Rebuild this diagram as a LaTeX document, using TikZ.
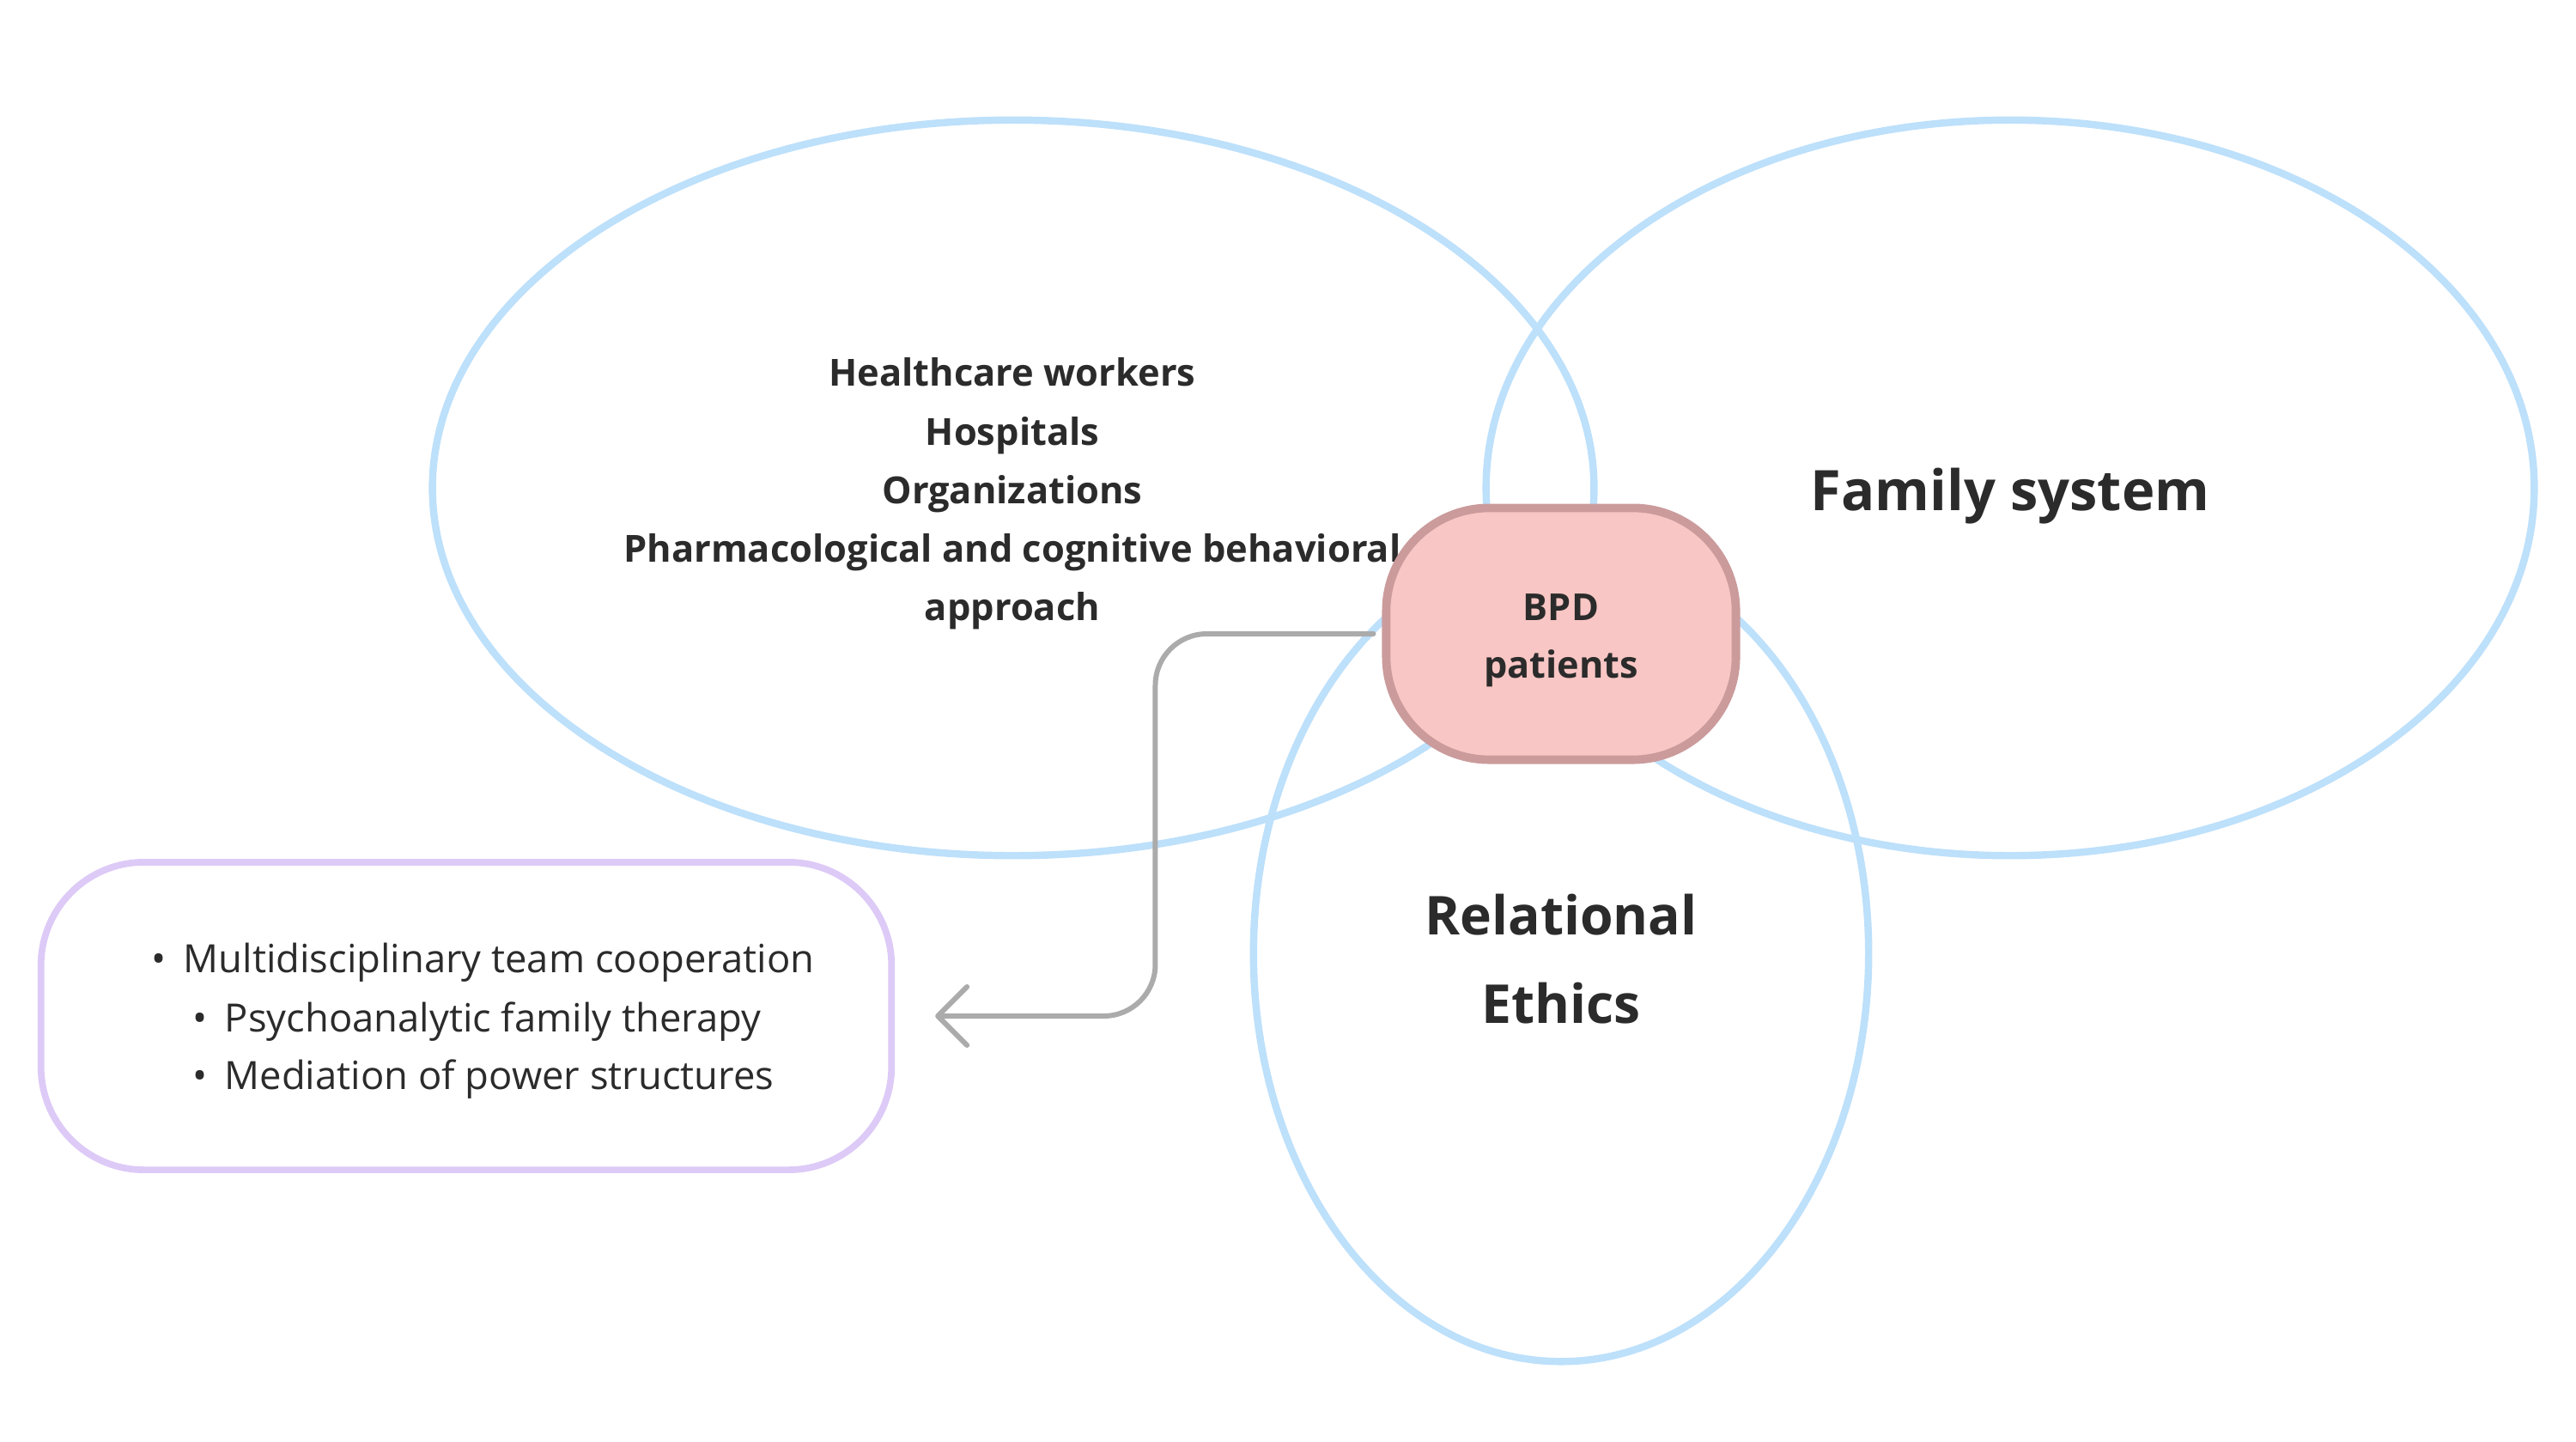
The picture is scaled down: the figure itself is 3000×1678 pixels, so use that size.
\documentclass[tikz,border=0pt]{standalone}
\usepackage{fontspec}
\setmainfont{Open Sans}
\usetikzlibrary{arrows.meta,shapes.geometric}
\definecolor{venn}{HTML}{BDE0FB}
\definecolor{bpdfill}{HTML}{F8C6C4}
\definecolor{bpdline}{HTML}{CB9B9C}
\definecolor{lav}{HTML}{DDCAF7}
\definecolor{conn}{HTML}{ABABAB}
\definecolor{ink}{HTML}{2B2B2B}
\newcommand{\lowertext}[1]{\raisebox{-0.08cm}[\height][\depth]{#1}}
\tikzset{
  vennset/.style={ellipse, draw=venn, line width=2.4pt, inner sep=0pt},
  bpdbox/.style={rectangle, rounded corners=1.2cm, draw=bpdline, fill=bpdfill, line width=2.8pt, minimum width=4.07cm, minimum height=2.93cm, align=center, text=ink},
  listbox/.style={rectangle, rounded corners=1.2cm, draw=lav, line width=2.2pt, minimum width=9.9cm, minimum height=3.58cm},
  midtext/.style={align=center, text=ink, font=\bfseries\fontsize{12.35pt}{19.4pt}\selectfont},
  bigtext/.style={align=center, text=ink, font=\bfseries\fontsize{17.75pt}{29.3pt}\selectfont},
  itemtext/.style={anchor=mid west, text=ink, inner sep=0pt, font=\fontsize{12.9pt}{14pt}\selectfont},
  connline/.style={draw=conn, line width=1.7pt, rounded corners=0.6cm, line cap=round, -{Straight Barb[length=0.34cm, width=0.68cm, line width=1.7pt, round]}}
}
\begin{document}
\begin{tikzpicture}[x=0.01cm,y=-0.01cm]
\fill[white] (0,0) rectangle (3000,1678);
\useasboundingbox (0,0) rectangle (3000,1678);
\node[vennset, minimum width=13.52cm, minimum height=8.56cm] (care) at (1180,568) {};
\node[vennset, minimum width=12.2cm, minimum height=8.56cm] (family) at (2341,568) {};
\node[vennset, minimum width=7.16cm, minimum height=9.5cm] (ethics) at (1818,1110) {};
\node[midtext] (caretext) at (1179,575) {Healthcare workers\\Hospitals\\Organizations\\Pharmacological and cognitive behavioral\\approach};
\node[bigtext, font=\bfseries\fontsize{18.5pt}{29.3pt}\selectfont] (familytext) at (2341,578) {Family system};
\node[bigtext] (ethicstext) at (1818,1117) {Relational\\Ethics};
\node[listbox] (list) at (543,1183) {};
\node[itemtext] (b1) at (176,1123) {\textbullet\hspace{0.2cm}Multidisciplinary team cooperation};
\node[itemtext] (b2) at (224,1192) {\textbullet\hspace{0.2cm}Psychoanalytic family therapy};
\node[itemtext] (b3) at (224,1259) {\textbullet\hspace{0.2cm}Mediation of power structures};
\node[bpdbox, font=\bfseries\fontsize{12.3pt}{19pt}\selectfont] (bpd) at (1818,738) {\lowertext{BPD}\\\lowertext{patients}};
\draw[connline, shorten <=0.1cm, shorten >=0.47cm] (bpd.west) -- ++(-264,0) |- (list.east);
\end{tikzpicture}
\end{document}
